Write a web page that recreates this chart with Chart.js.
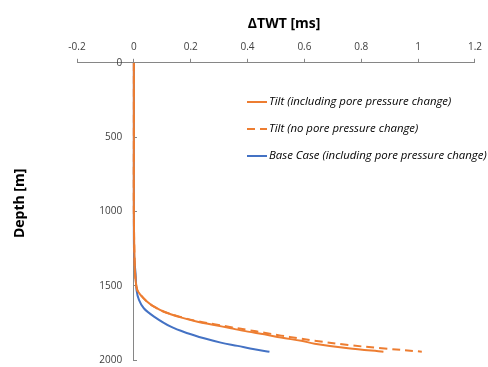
<!DOCTYPE html>
<html>
<head>
<meta charset="utf-8">
<script src="https://cdn.jsdelivr.net/npm/chart.js"></script>
<style>
    html, body { margin: 0; padding: 0; background: #fff; }
    #wrap { width: 488px; height: 367px; position: relative; }
</style>
</head>
<body>
<div id="wrap"><canvas id="chart"></canvas></div>
<script>
const xTicks = [-0.2, 0, 0.2, 0.4, 0.6, 0.8, 1, 1.2];
const yTicks = [0, 500, 1000, 1500, 2000];

const baseDepth = [0, 500, 1000, 1300, 1417, 1529, 1596, 1652, 1708, 1776, 1820, 1854, 1883, 1905, 1928, 1944];
const baseCase = [0, 0, 0, 0.001, 0.006, 0.0095, 0.018, 0.035, 0.071, 0.130, 0.189, 0.247, 0.306, 0.365, 0.424, 0.477];

const tiltDepth = [0, 500, 1000, 1328, 1462, 1529, 1563, 1608, 1641, 1675, 1713, 1742, 1764, 1787, 1809, 1827, 1849, 1871, 1890, 1921, 1944];
const tiltPore = [0, 0, 0, 0.0025, 0.006, 0.012, 0.024, 0.047, 0.071, 0.106, 0.165, 0.224, 0.283, 0.342, 0.401, 0.459, 0.518, 0.589, 0.636, 0.754, 0.878];

const tiltNoPoreDepth = [0, 500, 1000, 1328, 1462, 1529, 1563, 1608, 1641, 1675, 1711, 1739, 1759, 1779, 1798, 1816, 1836, 1853, 1870, 1899, 1921, 1944];
const tiltNoPore = [0, 0, 0, 0.0025, 0.006, 0.012, 0.024, 0.047, 0.071, 0.106, 0.165, 0.224, 0.283, 0.342, 0.401, 0.459, 0.518, 0.577, 0.636, 0.754, 0.872, 1.013];

const ORANGE = '#ED7D31';
const BLUE = '#4472C4';
const AXIS = '#868686';
const FONT = "'Open Sans', sans-serif";

const toPoints = (values, depths) => values.map((v, i) => ({ x: v, y: depths[i] }));

// legend + left axis title drawn inside the plot like the excel original
const overlayText = {
    id: 'overlayText',
    afterDraw(chart) {
        const { ctx, chartArea } = chart;
        ctx.save();

        ctx.translate(20, (chartArea.top + chartArea.bottom) / 2 - 8);
        ctx.rotate(-Math.PI / 2);
        ctx.font = `bold 14px ${FONT}`;
        ctx.fillStyle = '#000';
        ctx.textAlign = 'center';
        ctx.textBaseline = 'middle';
        ctx.fillText('Depth [m]', 0, 0);
        ctx.setTransform(1, 0, 0, 1, 0, 0);

        const left = 247;
        let y = 102;
        chart.data.datasets.forEach((ds) => {
            ctx.strokeStyle = ds.borderColor;
            ctx.lineWidth = 2;
            ctx.setLineDash(ds.borderDash || []);
            ctx.beginPath();
            ctx.moveTo(left, y);
            ctx.lineTo(left + 20, y);
            ctx.stroke();
            ctx.setLineDash([]);
            ctx.font = `italic 11.4px ${FONT}`;
            ctx.fillStyle = '#000';
            ctx.textAlign = 'left';
            ctx.textBaseline = 'middle';
            ctx.fillText(ds.label, left + 22, y);
            y += 27;
        });
        ctx.restore();
    },
};

new Chart(document.getElementById('chart'), {
    type: 'scatter',
    data: {
        datasets: [
            {
                label: 'Tilt (including pore pressure change)',
                data: toPoints(tiltPore, tiltDepth),
                borderColor: ORANGE,
                borderWidth: 2,
            },
            {
                label: 'Tilt (no pore pressure change)',
                data: toPoints(tiltNoPore, tiltNoPoreDepth),
                borderColor: ORANGE,
                borderWidth: 2,
                borderDash: [8, 5],
            },
            {
                label: 'Base Case (including pore pressure change)',
                data: toPoints(baseCase, baseDepth),
                borderColor: BLUE,
                borderWidth: 2,
            },
        ].map((ds) => ({ ...ds, showLine: true, pointRadius: 0, tension: 0.35, fill: false })),
    },
    options: {
        responsive: true,
        maintainAspectRatio: false,
        animation: false,
        layout: { padding: { left: 77, right: 10, top: 16, bottom: 7 } },
        plugins: { legend: { display: false }, tooltip: { enabled: false } },
        scales: {
            x: {
                type: 'linear',
                position: 'top',
                min: xTicks[0],
                max: xTicks[xTicks.length - 1],
                afterBuildTicks(axis) {
                    axis.ticks = xTicks.map((value) => ({ value }));
                },
                border: { display: true, color: AXIS, width: 1 },
                grid: { drawOnChartArea: false, drawTicks: true, tickLength: 4, color: AXIS },
                ticks: {
                    padding: 6,
                    maxRotation: 0,
                    color: '#404040',
                    font: { family: FONT, size: 10 },
                    callback(value) {
                        return String(Number(value.toFixed(1)));
                    },
                },
                title: {
                    display: true,
                    // leading space nudges the centred title right, as in the original
                    text: '\u2003\u2009ΔTWT [ms]',
                    color: '#000',
                    font: { family: FONT, size: 14, weight: 'bold' },
                    padding: { top: 0, bottom: 2 },
                },
            },
            y: {
                type: 'linear',
                position: { x: 0 },
                reverse: true,
                min: yTicks[0],
                max: yTicks[yTicks.length - 1],
                afterBuildTicks(axis) {
                    axis.ticks = yTicks.map((value) => ({ value }));
                },
                border: { display: true, color: AXIS, width: 1 },
                // negative length puts the tick marks on the left of an axis placed at x = 0
                grid: { drawOnChartArea: false, drawTicks: true, tickLength: -4, color: AXIS },
                ticks: {
                    color: '#404040',
                    font: { family: FONT, size: 10, lineHeight: 0.8 },
                    callback(value) {
                        // labels of a value-positioned axis sit flush on the line, so pad them
                        return `${value}\u2003\u2009`;
                    },
                },
            },
        },
    },
    plugins: [overlayText],
});
</script>
</body>
</html>
